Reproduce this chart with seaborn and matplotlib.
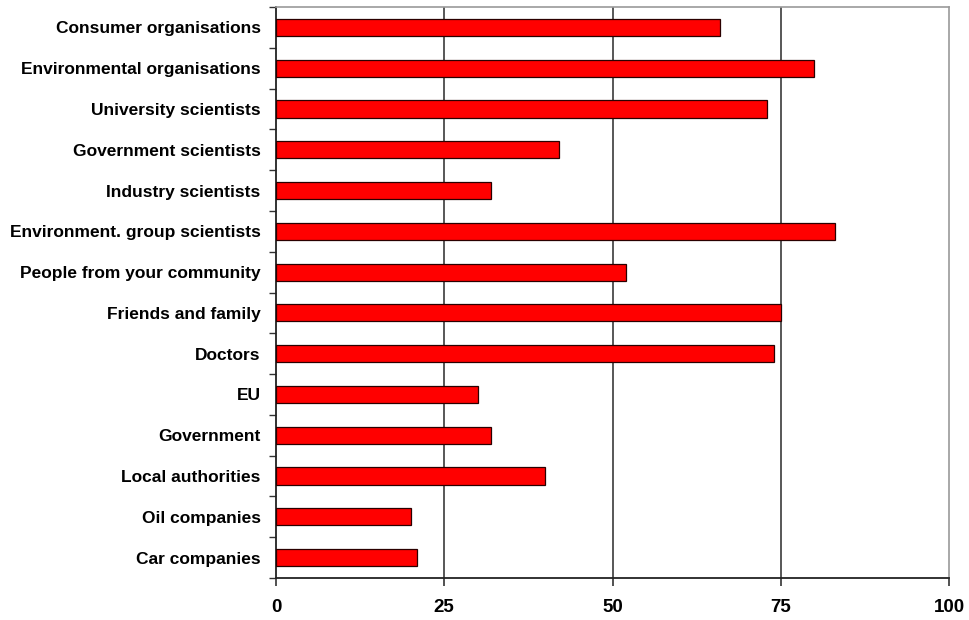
import matplotlib
matplotlib.use("Agg")
import matplotlib.pyplot as plt
import seaborn as sns
import pandas as pd
import numpy as np
from matplotlib.ticker import FixedLocator

categories = [
    "Consumer organisations",
    "Environmental organisations",
    "University scientists",
    "Government scientists",
    "Industry scientists",
    "Environment. group scientists",
    "People from your community",
    "Friends and family",
    "Doctors",
    "EU",
    "Government",
    "Local authorities",
    "Oil companies",
    "Car companies",
]
values = [66, 80, 73, 42, 32, 83, 52, 75, 74, 30, 32, 40, 20, 21]
x_ticks = [0, 25, 50, 75, 100]

sns.set_style("white")
plt.rcParams["font.family"] = ["Liberation Sans", "DejaVu Sans"]
plt.rcParams["font.weight"] = "bold"
plt.rcParams["text.color"] = "black"
plt.rcParams["xtick.color"] = "black"
plt.rcParams["ytick.color"] = "black"

df = pd.DataFrame({"group": categories, "value": values})

fig = plt.figure(figsize=(9.69, 6.2), dpi=100)
ax = fig.add_axes([0.2848, 0.0677, 0.6946, 0.921])

sns.barplot(data=df, y="group", x="value", orient="h", color="#FF0000",
            edgecolor="#2a0000", linewidth=0.9, width=0.42, saturation=1,
            ax=ax, zorder=3)

ax.set_xlim(0, 100)
ax.set_ylim(len(categories) - 0.5, -0.5)
ax.set_xticks(x_ticks)
ax.set_xticklabels([str(t) for t in x_ticks], fontsize=13.5, fontweight="bold")
ax.set_xlabel("")
ax.set_ylabel("")

for t in x_ticks[1:-1]:
    ax.axvline(t, color="#4a4a4a", linewidth=1.3, zorder=1)

ax.tick_params(axis="y", which="major", length=0, pad=11, labelsize=12.5,
               labelcolor="black")
for lab in ax.get_yticklabels():
    lab.set_fontweight("bold")
ax.yaxis.set_minor_locator(FixedLocator(np.arange(-0.5, len(categories) + 0.5, 1.0)))
ax.tick_params(axis="y", which="minor", left=True, length=5, width=1.0, color="#333333")
ax.tick_params(axis="x", which="major", bottom=True, length=6, width=1.2,
               color="#333333", pad=9, labelcolor="black")

for side in ("left", "bottom"):
    ax.spines[side].set_color("#222222")
    ax.spines[side].set_linewidth(1.3)
for side in ("top", "right"):
    ax.spines[side].set_color("#9a9a9a")
    ax.spines[side].set_linewidth(1.2)

fig.savefig("out.png", dpi=100)
